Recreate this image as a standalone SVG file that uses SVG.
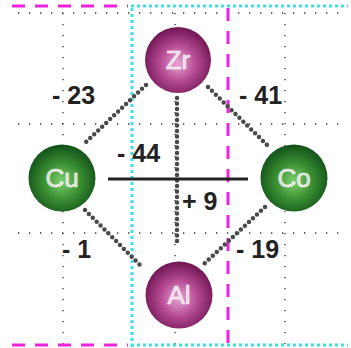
<svg xmlns="http://www.w3.org/2000/svg" width="351" height="348" viewBox="0 0 351 348">
<defs>
<radialGradient id="gp" cx="0.5" cy="0.55" r="0.55">
<stop offset="0" stop-color="#e7a6d4"/>
<stop offset="0.5" stop-color="#b54a92"/>
<stop offset="1" stop-color="#6e1452"/>
</radialGradient>
<radialGradient id="gg" cx="0.5" cy="0.55" r="0.55">
<stop offset="0" stop-color="#7fcf6f"/>
<stop offset="0.5" stop-color="#3a8f32"/>
<stop offset="1" stop-color="#12501a"/>
</radialGradient>
<style>
.grid{stroke:#333;stroke-width:1.3;stroke-dasharray:1.3 9.7;fill:none}
.cyan{stroke:#3ee0e6;stroke-width:3;stroke-dasharray:3 3;fill:none}
.mag{stroke:#ee22dd;stroke-width:3;fill:none;stroke-dasharray:13 10}
.bond{stroke:#4a4a4a;stroke-width:4.5;stroke-linecap:round;stroke-dasharray:0 5.5;fill:none}
.lbl{font-family:"Liberation Sans",Arial,sans-serif;font-weight:bold;font-size:25px;fill:#222}
.el{font-family:"Liberation Sans",Arial,sans-serif;font-size:26px;fill:#f3e6f0;fill-opacity:0.85;stroke:#ffffff;stroke-width:0.6;text-anchor:middle}
</style>
</defs>
<g id="grid">
<path class="grid" d="M18 13H345M18 124H345M18 233H345M63 13V345M175 13V345M285 13V345"/>
</g>
<g id="guides">
<path class="cyan" d="M131 6H348M131 345H348M132 8V348"/>
<path class="mag" d="M12 6H128M12 345H128M228 8V348"/>
</g>
<g id="connectors">
<path class="bond" d="M146 85L85 143M208 87L267 145M85 210L143 268M265 207L203 265M177 98V245"/>
<line x1="108" y1="179" x2="248" y2="179" stroke="#222" stroke-width="3"/>
</g>
<g id="Zr"><circle cx="178" cy="60" r="33" fill="url(#gp)"/><text class="el" x="178" y="69">Zr</text></g>
<g id="Cu"><circle cx="62" cy="178" r="33.5" fill="url(#gg)"/><text class="el" x="62" y="187">Cu</text></g>
<g id="Co"><circle cx="294" cy="178" r="33.5" fill="url(#gg)"/><text class="el" x="294" y="187">Co</text></g>
<g id="Al"><circle cx="179" cy="295" r="33.5" fill="url(#gp)"/><text class="el" x="179" y="304">Al</text></g>
<g id="labels">
<text class="lbl" x="52" y="104">- 23</text>
<text class="lbl" x="239" y="104">- 41</text>
<text class="lbl" x="117" y="162">- 44</text>
<text class="lbl" x="182" y="210">+ 9</text>
<text class="lbl" x="62" y="258">- 1</text>
<text class="lbl" x="236" y="258">- 19</text>
</g>
</svg>
